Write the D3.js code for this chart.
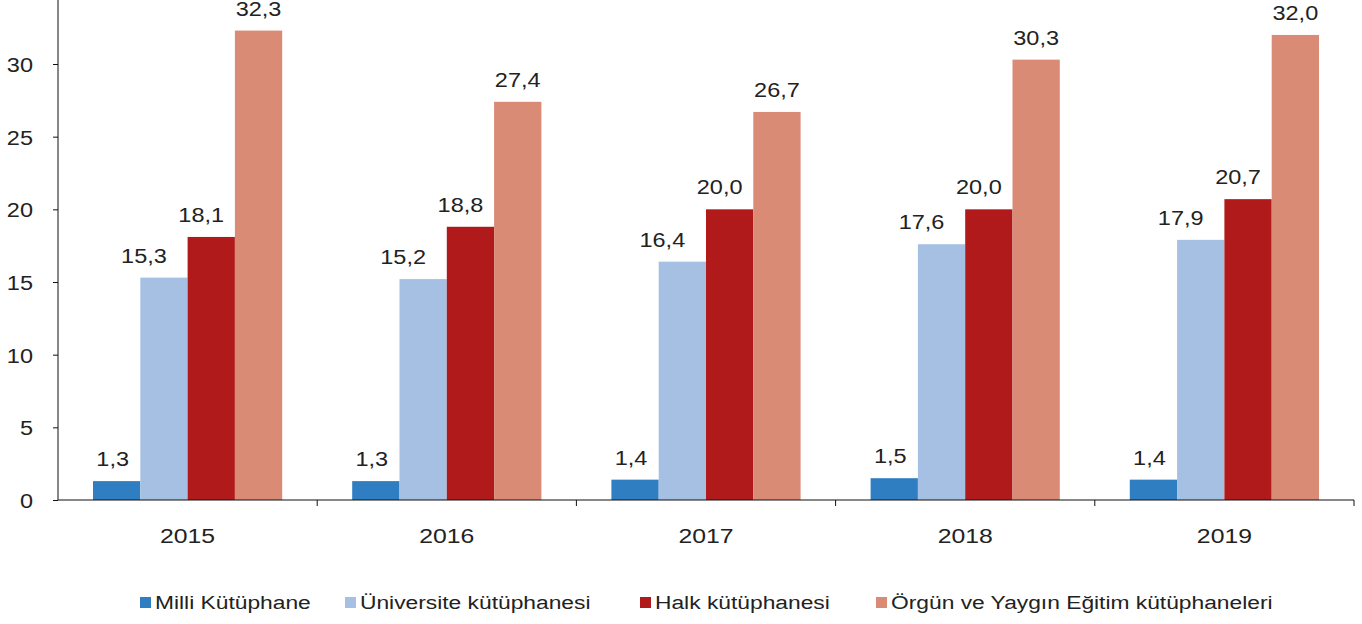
<!DOCTYPE html>
<html>
<head>
<meta charset="utf-8">
<script src="https://cdn.jsdelivr.net/npm/d3@7"></script>
<style>
  body { margin: 0; background: #fff; }
  svg { display: block; font-family: "Liberation Sans", Arial, sans-serif; }
  .axis path, .axis line { stroke: #111; }
  .axis text { font-size: 21px; fill: #222; }
</style>
</head>
<body>
<svg id="chart"></svg>
<script>
const years = ['2015', '2016', '2017', '2018', '2019'];
const seriesNames = ['Milli Kütüphane', 'Üniversite kütüphanesi', 'Halk kütüphanesi', 'Örgün ve Yaygın Eğitim kütüphaneleri'];
const milli = [1.3, 1.3, 1.4, 1.5, 1.4];
const universite = [15.3, 15.2, 16.4, 17.6, 17.9];
const halk = [18.1, 18.8, 20.0, 20.0, 20.7];
const orgun = [32.3, 27.4, 26.7, 30.3, 32.0];
const yTicks = [0, 5, 10, 15, 20, 25, 30, 35];
const colors = ['#2f7ec2', '#a6c0e3', '#b11a1a', '#d98b76'];

const seriesValues = [milli, universite, halk, orgun];

const width = 1362, height = 624;
const x0 = 58, x1 = 1354, yZero = 500;
const stretch = 1.12;
// labels sit a little to the left of their bars in the original
const labelShift = [-4, -20, -10, 0];

const svg = d3.select('#chart')
    .attr('width', width)
    .attr('height', height);

const xScale = d3.scaleBand()
    .domain(years)
    .range([x0, x1]);

const innerScale = d3.scaleBand()
    .domain(d3.range(seriesNames.length))
    .range([0, xScale.bandwidth()])
    .paddingOuter(0.74)
    .paddingInner(0);

const yScale = d3.scaleLinear()
    .domain([0, 30])
    .range([yZero, 64]);

// y axis
const yAxis = d3.axisLeft(yScale)
    .tickValues(yTicks)
    .tickSize(5)
    .tickSizeOuter(0)
    .tickPadding(20)
    .tickFormat(d => d);

svg.append('g')
    .attr('class', 'axis y-axis')
    .attr('transform', `translate(${x0},0)`)
    .call(yAxis)
    .call(g => g.select('.domain').attr('d', `M0,${yScale(35)}V${yZero}`))
    .call(g => g.selectAll('text')
        .attr('dy', '0.36em')
        .attr('x', 0)
        .attr('transform', `translate(-25,0) scale(${stretch},1)`));

// bars
const groups = svg.append('g')
  .selectAll('g')
  .data(years)
  .join('g')
    .attr('transform', d => `translate(${xScale(d)},0)`);

groups.selectAll('rect')
    .data((d, i) => seriesValues.map((s, k) => ({k: k, v: s[i]})))
  .join('rect')
    .attr('x', d => innerScale(d.k))
    .attr('width', innerScale.bandwidth())
    .attr('y', d => yScale(d.v))
    .attr('height', d => yZero - yScale(d.v))
    .attr('fill', d => colors[d.k]);

groups.selectAll('text.val')
    .data((d, i) => seriesValues.map((s, k) => ({k: k, v: s[i]})))
  .join('text')
    .attr('class', 'val')
    .attr('transform', d => `translate(${innerScale(d.k) + innerScale.bandwidth() / 2 + labelShift[d.k]},${yScale(d.v) - 15}) scale(${stretch},1)`)
    .attr('text-anchor', 'middle')
    .style('font-size', '21px')
    .style('fill', '#222')
    .text(d => d.v.toFixed(1).replace('.', ','));

// x axis
const xAxis = d3.axisBottom(xScale)
    .tickSize(0)
    .tickPadding(28);

const xAxisG = svg.append('g')
    .attr('class', 'axis x-axis')
    .attr('transform', `translate(0,${yZero})`)
    .call(xAxis);
xAxisG.select('.domain').attr('d', `M${x0},0H${x1}`);
xAxisG.selectAll('.tick text')
    .attr('y', 0)
    .attr('transform', `translate(0,28) scale(${stretch + 0.06},1)`);
// boundary ticks between categories
xAxisG.selectAll('.sep')
    .data(years.map(d => xScale(d)).concat([x1]).slice(1))
  .join('line')
    .attr('class', 'sep')
    .attr('x1', d => d).attr('x2', d => d)
    .attr('y1', 0).attr('y2', 6)
    .attr('stroke', '#111');

// legend
const legendX = [140, 345, 640, 876];
const legend = svg.append('g')
  .selectAll('g')
  .data(seriesNames)
  .join('g')
    .attr('transform', (d, i) => `translate(${legendX[i]},602)`);

legend.append('rect')
    .attr('x', 0)
    .attr('y', -5)
    .attr('width', 11)
    .attr('height', 11)
    .attr('fill', (d, i) => colors[i]);

legend.append('text')
    .attr('transform', `translate(15,0) scale(1.2,1)`)
    .attr('dy', '0.36em')
    .style('font-size', '19px')
    .style('fill', '#222')
    .text(d => d);
</script>
</body>
</html>
